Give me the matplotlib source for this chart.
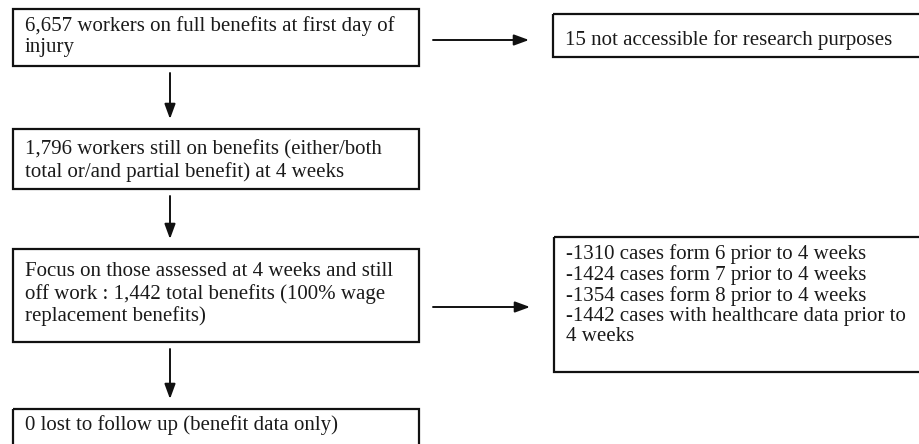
import matplotlib
matplotlib.use("Agg")
import matplotlib.pyplot as plt
from matplotlib.patches import Rectangle

# flowchart contents
main_steps = [
    "6,657 workers on full benefits at first day of\ninjury",
    "1,796 workers still on benefits (either/both\ntotal or/and partial benefit) at 4 weeks",
    "Focus on those assessed at 4 weeks and still\noff work : 1,442 total benefits (100% wage\nreplacement benefits)",
    "0 lost to follow up (benefit data only)",
]
side_notes = [
    "15 not accessible for research purposes",
    "-1310 cases form 6 prior to 4 weeks\n-1424 cases form 7 prior to 4 weeks\n"
    "-1354 cases form 8 prior to 4 weeks\n-1442 cases with healthcare data prior to\n4 weeks",
]

# layout in pixel units (x0, y0, x1, y1), y grows downwards
main_boxes = [(13, 9, 419, 66), (13, 129, 419, 189), (13, 249, 419, 342), (13, 409, 419, 452)]
main_pad = [7, 11, 13, 6]
side_boxes = [(553, 14, 935, 57), (554, 237, 935, 372)]
side_pad = [16, 7]
side_of = [0, 2]          # which main step each side note hangs off
side_arrow_y = [40, 307]

W, H = 919, 444
fig = plt.figure(figsize=(W / 100, H / 100), dpi=100)
ax = fig.add_axes([0, 0, 1, 1])
ax.set_xlim(0, W)
ax.set_ylim(H, 0)
ax.axis("off")

FONT = dict(family="Liberation Serif", fontsize=15, color="#1a1a1a")


def box(ax, b, text, pad_y, ls, pad_x=12):
    x0, y0, x1, y1 = b
    ax.add_patch(Rectangle((x0, y0), x1 - x0, y1 - y0, fill=False,
                           ec="#111111", lw=1.6, clip_on=False))
    ax.text(x0 + pad_x, y0 + pad_y, text, ha="left", va="top",
            linespacing=ls, **FONT)


def arrow(ax, start, end):
    ax.annotate("", xy=end, xytext=start,
                arrowprops=dict(arrowstyle="-|>,head_length=0.9,head_width=0.33",
                                color="#111111", lw=1.4, shrinkA=0, shrinkB=0))


for b, t, p in zip(main_boxes, main_steps, main_pad):
    box(ax, b, t, p, 1.18)

for b, t, p in zip(side_boxes, side_notes, side_pad):
    box(ax, b, t, p, 1.08)

# vertical arrows between main steps
for upper, lower in zip(main_boxes[:-1], main_boxes[1:]):
    arrow(ax, (170, upper[3] + 7), (170, lower[1] - 10))

# horizontal arrows to side notes
for k, (i, y) in enumerate(zip(side_of, side_arrow_y)):
    arrow(ax, (main_boxes[i][2] + 14, y), (side_boxes[k][0] - 24, y))

fig.savefig("out.png", dpi=100)
